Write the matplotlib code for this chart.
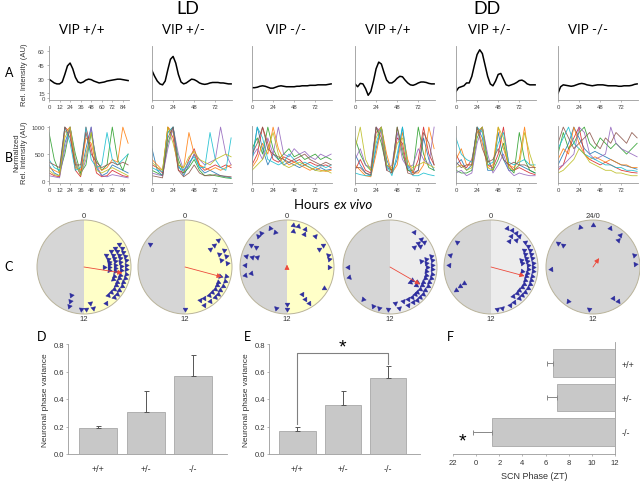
import numpy as np
import matplotlib
matplotlib.use('Agg')
import matplotlib.pyplot as plt
from matplotlib.patches import Wedge, Circle

plt.rcParams['font.family'] = ['Liberation Sans', 'DejaVu Sans']

# ---------------- data ----------------
genotypes = ['+/+', '+/-', '-/-']
titles = ['VIP +/+', 'VIP +/-', 'VIP -/-', 'VIP +/+', 'VIP +/-', 'VIP -/-']

# A: mean bioluminescence, sampled every 3 h (0..90 h)
t_a = [0, 3, 6, 9, 12, 15, 18, 21, 24, 27, 30, 33, 36, 39, 42, 45, 48, 51, 54, 57,
       60, 63, 66, 69, 72, 75, 78, 81, 84, 87, 90]
a_ld_wt = [30, 28, 26, 25, 25, 27, 35, 44, 47, 41, 32, 27, 26, 27, 29, 30, 29.5, 28, 27, 26,
           26.5, 27, 28, 28.5, 29, 29.5, 30, 30, 29.5, 29, 28.5]
a_ld_het = [39, 33, 28, 25, 24, 28, 40, 51, 54, 47, 35, 27, 25, 26, 28, 30, 29.5, 28, 26, 25,
            24.5, 25, 26, 26.5, 26.5, 26.5, 26, 26, 25.5, 25, 25]
a_ld_ko = [21, 21, 21.5, 22.5, 23, 22.5, 21.5, 20.5, 20.5, 21.5, 22.5, 23, 22.5, 22, 22, 22, 22,
           22.5, 22.5, 23, 23, 23, 23.5, 23.5, 23.5, 24, 24, 24, 24, 24.5, 25]
a_dd_wt = [25, 22, 25.5, 25, 20, 13, 17, 28, 41, 48, 46, 37, 29, 26, 26, 28, 31, 33, 32.5, 29,
           26, 24, 23.5, 24.5, 26, 27, 27, 26.5, 25.5, 25, 25]
a_dd_het = [17, 21, 22, 23, 26, 26, 33, 45, 56, 61, 57, 45, 33, 25, 23, 28, 35, 36, 30, 24,
            23, 24, 25, 26.5, 28.5, 29, 27.5, 25, 24, 24, 24]
a_dd_ko = [15, 22, 24, 23.5, 23, 22.5, 23, 24, 25, 25.5, 25, 24, 23.5, 23, 23.5, 24, 24, 24,
           23.5, 23, 23, 23, 23, 22.5, 22.5, 23, 23, 23, 23.5, 24.5, 25]
a_traces = [a_ld_wt, a_ld_het, a_ld_ko, a_dd_wt, a_dd_het, a_dd_ko]

# B: normalized single-neuron traces, sampled every 6 h (0..90 h)
t_b = [0, 6, 12, 18, 24, 30, 36, 42, 48, 54, 60, 66, 72, 78, 84, 90]
b_ld_wt = [
    [300, 150, 100, 700, 1000, 300, 120, 600, 1000, 250, 100, 150, 300, 250, 200, 150],
    [150, 100, 80, 1000, 900, 200, 80, 1000, 600, 150, 80, 100, 200, 150, 100, 80],
    [900, 400, 150, 500, 1000, 500, 150, 300, 900, 400, 200, 300, 1000, 400, 200, 500],
    [250, 200, 150, 900, 1000, 250, 200, 800, 700, 300, 200, 250, 400, 350, 1000, 700],
    [100, 80, 60, 600, 1000, 400, 100, 400, 1000, 300, 100, 80, 120, 100, 80, 60],
    [400, 250, 200, 1000, 700, 200, 250, 1000, 400, 250, 300, 900, 400, 300, 400, 500],
    [200, 120, 100, 800, 1000, 350, 100, 500, 900, 200, 150, 200, 250, 200, 150, 100],
    [350, 300, 250, 1000, 800, 300, 300, 900, 500, 350, 250, 300, 350, 300, 350, 300],
]
b_ld_het = [
    [600, 200, 100, 900, 1000, 300, 100, 300, 500, 250, 150, 200, 150, 100, 80, 60],
    [300, 250, 150, 1000, 800, 200, 150, 400, 600, 300, 200, 250, 300, 250, 300, 250],
    [200, 150, 100, 700, 1000, 400, 150, 250, 400, 200, 100, 120, 100, 80, 60, 50],
    [400, 300, 200, 1000, 900, 300, 250, 900, 500, 300, 250, 200, 250, 200, 250, 300],
    [150, 120, 100, 600, 1000, 500, 200, 300, 500, 400, 300, 350, 400, 1000, 500, 300],
    [250, 200, 180, 900, 1000, 250, 200, 350, 450, 250, 250, 900, 400, 250, 200, 800],
    [350, 250, 200, 1000, 700, 300, 250, 450, 550, 400, 350, 300, 400, 450, 500, 450],
    [100, 80, 60, 800, 1000, 200, 80, 150, 300, 150, 100, 100, 120, 100, 90, 80],
]
b_ld_ko = [
    [400, 1000, 600, 300, 500, 400, 300, 350, 300, 250, 300, 250, 200, 250, 200, 220],
    [300, 500, 1000, 700, 400, 350, 450, 400, 350, 400, 300, 350, 300, 280, 300, 250],
    [600, 800, 500, 1000, 600, 400, 500, 600, 450, 500, 400, 450, 500, 400, 450, 400],
    [250, 400, 700, 500, 1000, 600, 400, 300, 350, 300, 250, 200, 250, 200, 180, 200],
    [450, 600, 400, 800, 500, 1000, 500, 450, 600, 500, 550, 450, 400, 500, 450, 500],
    [350, 1000, 800, 400, 350, 300, 350, 500, 400, 300, 350, 300, 250, 300, 250, 300],
    [200, 300, 400, 600, 900, 500, 300, 250, 300, 350, 300, 250, 200, 180, 200, 150],
    [500, 700, 1000, 600, 500, 450, 400, 350, 400, 450, 500, 400, 350, 300, 350, 300],
]
b_dd_wt = [
    [500, 300, 150, 100, 600, 1000, 400, 150, 400, 1000, 300, 150, 200, 800, 400, 200],
    [200, 400, 200, 150, 900, 1000, 300, 200, 800, 700, 200, 150, 400, 1000, 500, 300],
    [800, 500, 300, 200, 1000, 700, 250, 200, 1000, 500, 200, 200, 1000, 500, 250, 200],
    [300, 200, 100, 80, 500, 1000, 500, 150, 300, 900, 400, 150, 150, 300, 1000, 600],
    [400, 600, 300, 250, 1000, 900, 200, 300, 900, 400, 250, 300, 600, 400, 300, 1000],
    [150, 120, 100, 100, 700, 1000, 300, 100, 500, 1000, 250, 100, 100, 150, 120, 100],
    [600, 1000, 400, 200, 800, 1000, 300, 250, 700, 800, 300, 250, 300, 350, 300, 250],
    [250, 250, 150, 120, 1000, 800, 200, 150, 1000, 600, 150, 120, 200, 900, 700, 300],
]
b_dd_het = [
    [300, 400, 200, 300, 1000, 800, 200, 200, 900, 400, 200, 200, 300, 250, 200, 150],
    [500, 300, 250, 400, 900, 1000, 300, 250, 500, 1000, 300, 200, 250, 200, 150, 120],
    [200, 150, 150, 200, 800, 1000, 400, 200, 400, 700, 250, 150, 900, 400, 200, 150],
    [400, 600, 300, 300, 1000, 700, 250, 300, 1000, 600, 300, 250, 400, 1000, 300, 250],
    [150, 200, 100, 150, 700, 1000, 500, 150, 300, 500, 200, 100, 150, 120, 100, 100],
    [800, 500, 400, 350, 1000, 900, 300, 350, 700, 900, 350, 300, 350, 400, 300, 300],
    [250, 300, 200, 250, 900, 1000, 250, 200, 1000, 800, 250, 200, 300, 900, 500, 200],
    [350, 250, 300, 300, 1000, 600, 350, 400, 600, 400, 300, 350, 300, 300, 250, 250],
]
b_dd_ko = [
    [300, 500, 700, 1000, 800, 600, 500, 550, 500, 450, 400, 350, 300, 280, 250, 220],
    [200, 300, 600, 800, 1000, 500, 400, 350, 300, 350, 300, 250, 200, 180, 160, 150],
    [500, 900, 600, 700, 900, 1000, 700, 600, 800, 700, 600, 700, 600, 500, 600, 700],
    [400, 600, 500, 1000, 700, 500, 400, 450, 400, 350, 400, 350, 300, 300, 250, 250],
    [250, 300, 400, 500, 1000, 900, 500, 400, 450, 500, 1000, 700, 600, 550, 500, 450],
    [600, 800, 1000, 700, 600, 500, 450, 400, 350, 300, 300, 250, 250, 200, 200, 180],
    [150, 200, 300, 400, 600, 500, 350, 300, 250, 200, 200, 150, 150, 120, 100, 100],
    [700, 1000, 800, 600, 700, 800, 900, 700, 600, 800, 700, 900, 800, 700, 900, 800],
]
b_traces = [b_ld_wt, b_ld_het, b_ld_ko, b_dd_wt, b_dd_het, b_dd_ko]
trace_colors = ['#1f77b4', '#d62728', '#2ca02c', '#ff7f0e', '#9467bd', '#17becf', '#bcbd22', '#8c564b']

# C: neuronal peak phases (h) and mean vector (phase h, length)
c_ld_wt = [3.8, 3.9, 4.0, 4.1, 4.2, 4.3, 4.5, 4.6, 4.7, 4.8, 4.9, 5.0, 5.1, 5.2, 5.3, 5.4, 5.5,
           5.6, 5.7, 5.8, 5.9, 6.0, 6.0, 6.1, 6.2, 6.3, 6.4, 6.5, 6.6, 6.8, 7.0, 7.1, 7.2, 7.4,
           7.5, 7.6, 7.8, 8.0, 8.2, 8.4, 8.6, 8.8, 9.0, 9.3, 9.9, 11.2, 11.4, 11.8, 12.3,
           13.4, 13.5, 13.6]
c_ld_het = [3.4, 3.5, 3.6, 4.4, 4.6, 5.0, 5.3, 5.6, 6.8, 7.0, 7.3, 7.6, 7.8, 8.0, 8.2, 8.4,
            8.6, 8.8, 9.0, 9.3, 9.6, 9.9, 10.2, 10.4, 12.0, 20.2]
c_ld_ko = [0.5, 0.6, 1.0, 1.7, 1.8, 2.8, 3.9, 4.0, 4.9, 5.3, 6.0, 8.0, 9.9, 10.0, 10.1, 12.0,
           12.0, 13.0, 17.3, 17.4, 18.2, 19.0, 19.1, 19.2, 20.1, 20.2, 21.1, 21.5, 22.4, 22.7]
c_dd_wt = [2.3, 3.2, 3.3, 3.4, 3.6, 3.7, 5.0, 5.2, 5.3, 5.4, 5.6, 5.8, 6.0, 6.2, 6.4, 6.6,
           6.8, 7.0, 7.2, 7.4, 7.6, 7.8, 7.9, 8.0, 8.1, 8.2, 8.3, 8.4, 8.5, 8.6, 8.8, 9.0,
           9.2, 9.4, 9.6, 9.8, 10.0, 10.3, 10.6, 11.2, 11.5, 12.2, 13.0, 13.6, 14.7, 17.1, 18.0]
c_dd_het = [1.5, 2.0, 2.2, 2.3, 2.4, 2.8, 2.9, 3.6, 4.0, 4.2, 4.4, 4.6, 4.8, 5.0, 5.1, 5.2,
            5.4, 5.5, 5.6, 5.8, 6.0, 6.2, 6.4, 6.5, 6.6, 6.8, 7.0, 7.2, 7.4, 7.6, 7.8, 8.0,
            8.2, 8.4, 8.6, 8.8, 9.0, 9.2, 9.5, 9.8, 10.2, 11.0, 11.5, 15.8, 15.9, 16.0, 18.2,
            19.1, 20.4]
c_dd_ko = [0.0, 1.6, 2.7, 2.9, 4.9, 5.7, 9.6, 9.8, 12.4, 14.4, 17.8, 20.3, 20.4, 22.8]
c_phases = [c_ld_wt, c_ld_het, c_ld_ko, c_dd_wt, c_dd_het, c_dd_ko]
mean_phase = [6.6, 7.0, 0.0, 8.0, 7.0, 2.3]
mean_len = [0.83, 0.81, 0.05, 0.74, 0.74, 0.23]
top_labels = ['0', '0', '0', '0', '0', '24/0']

# D / E: neuronal phase variance (mean, +SEM)
d_mean = [0.187, 0.303, 0.565]
d_sem = [0.015, 0.157, 0.155]
e_mean = [0.165, 0.356, 0.553]
e_sem = [0.035, 0.104, 0.085]

# F: SCN phase (ZT), mean and SEM
f_phase = [6.6, 7.0, 1.35]
f_sem = [0.45, 0.85, 1.6]

# ---------------- layout ----------------
W, H = 640, 485
fig = plt.figure(figsize=(6.4, 4.85), dpi=100)


def px_axes(l, t, r, b):
    return fig.add_axes([l / W, 1 - b / H, (r - l) / W, (b - t) / H])


def ftext(x, y, s, **kw):
    fig.text(x / W, 1 - y / H, s, **kw)


lefts = [49, 152, 252, 355, 456, 558]
title_x = [82, 183, 286, 388, 489, 588]
GREY = '#9a9a9a'

ftext(188, 9, 'LD', fontsize=13, family='Lato', ha='center', va='center')
ftext(487, 9, 'DD', fontsize=13, family='Lato', ha='center', va='center')
for x, s in zip(title_x, titles):
    ftext(x, 30, s, fontsize=9.5, family='Lato', ha='center', va='center')

for lab, y in zip(['A', 'B', 'C'], [73, 158, 267]):
    ftext(9, y, lab, fontsize=9, family='Lato', ha='center', va='center')

ftext(25, 75, 'Rel. Intensity (AU)', fontsize=5.5, rotation=90, ha='center', va='center', color='#333333')
ftext(21, 153, 'Normalized\nRel. Intensity (AU)', fontsize=5.5, rotation=90, ha='center',
      va='center', color='#333333', linespacing=1.1)
ftext(333, 205, 'Hours ', fontsize=9.5, family='Lato', ha='right', va='center')
ftext(334, 205, 'ex vivo', fontsize=9.5, family='Lato', style='italic', ha='left', va='center')


def small_axis(ax):
    for s in ['top', 'right']:
        ax.spines[s].set_visible(False)
    for s in ['left', 'bottom']:
        ax.spines[s].set_color(GREY)
        ax.spines[s].set_linewidth(0.6)
    ax.tick_params(labelsize=4.3, length=1.5, width=0.5, colors=GREY, labelcolor='#444444', pad=1.5)
    ax.set_xlim(0, 91)


# ---- row A ----
for i, y in enumerate(a_traces):
    ax = px_axes(lefts[i], 47, lefts[i] + 80, 101)
    ax.plot(t_a, y, color='black', lw=1.1)
    small_axis(ax)
    ax.set_ylim(8, 65)
    ax.set_xticks(range(0, 91, 12) if i == 0 else [0, 24, 48, 72])
    if i == 0:
        ax.set_yticks([9.6, 15, 30, 45, 60])
        ax.set_yticklabels(['0', '15', '30', '45', '60'])
    else:
        ax.set_yticks([])

# ---- row B ----
for i, traces in enumerate(b_traces):
    ax = px_axes(lefts[i], 127, lefts[i] + 80, 184)
    for j, tr in enumerate(traces):
        ax.plot(t_b, tr, color=trace_colors[j % len(trace_colors)], lw=0.6, alpha=0.9)
    small_axis(ax)
    ax.set_ylim(-35, 1020)
    ax.set_xticks(range(0, 91, 12) if i == 0 else [0, 24, 48, 72])
    if i == 0:
        ax.set_yticks([0, 500, 1000])
    else:
        ax.set_yticks([])

# ---- row C ----
centers = [84, 185, 287, 390, 491, 593]
cy, rad = 268, 47
right_fill = ['#ffffc8', '#ffffc8', '#ffffc8', '#ececec', '#ececec', '#d6d6d6']


def stack_levels(phases, win=0.35):
    levels = []
    for i, p in enumerate(phases):
        k = 0
        while any(levels[j] == k and abs(phases[j] - p) < win for j in range(i)):
            k += 1
        levels.append(k)
    return levels


for i, cx in enumerate(centers):
    ax = px_axes(cx - 52, cy - 52, cx + 52, cy + 52)
    ax.set_xlim(-52 / rad, 52 / rad)
    ax.set_ylim(-52 / rad, 52 / rad)
    ax.axis('off')
    ax.add_patch(Wedge((0, 0), 1, 90, 270, facecolor='#d6d6d6', edgecolor='none'))
    ax.add_patch(Wedge((0, 0), 1, -90, 90, facecolor=right_fill[i], edgecolor='none'))
    ax.add_patch(Circle((0, 0), 1, facecolor='none', edgecolor='#b9b39a', lw=0.7))
    phases = c_phases[i]
    levels = stack_levels(phases)
    for p, k in zip(phases, levels):
        th = np.deg2rad(p * 15)
        r = 0.9 - 0.12 * k
        ax.plot(r * np.sin(th), r * np.cos(th), marker=(3, 0, -p * 15), ms=4.0,
                color='#2e2e9e', mec='#2e2e9e', mew=0.3, ls='none')
    th = np.deg2rad(mean_phase[i] * 15)
    L = mean_len[i]
    ax.annotate('', xy=(L * np.sin(th), L * np.cos(th)), xytext=(0, 0),
                arrowprops=dict(arrowstyle='-|>', color='#ec4a3c', lw=0.6,
                                mutation_scale=7, shrinkA=0, shrinkB=0))
    ax.text(0, 1.02, top_labels[i], fontsize=5.5, ha='center', va='bottom', color='#333333')
    ax.text(0, -1.02, '12', fontsize=5.5, ha='center', va='top', color='#333333')

# ---- D / E ----
for lab, (l, r), means, sems, lx in [('D', (68, 227), d_mean, d_sem, 42),
                                      ('E', (269, 420), e_mean, e_sem, 247)]:
    ax = px_axes(l, 345, r, 455)
    x = np.arange(3)
    ax.bar(x, means, width=0.8, color='#c8c8c8', edgecolor='#a8a8a8', lw=0.6,
           yerr=[np.zeros(3), sems], error_kw=dict(ecolor='#555555', elinewidth=0.7,
                                                   capsize=1.8, capthick=0.7))
    ax.set_xlim(-0.63, 2.71)
    ax.set_ylim(0, 0.8)
    ax.set_yticks([0, 0.2, 0.4, 0.6, 0.8])
    ax.set_yticklabels(['0.0', '0.2', '0.4', '0.6', '0.8'])
    ax.set_xticks(x)
    ax.set_xticklabels(genotypes)
    for s in ['top', 'right']:
        ax.spines[s].set_visible(False)
    for s in ['left', 'bottom']:
        ax.spines[s].set_color(GREY)
        ax.spines[s].set_linewidth(0.6)
    ax.tick_params(axis='y', labelsize=5.5, length=1.5, width=0.5, colors=GREY,
                   labelcolor='#333333', pad=1.5)
    ax.tick_params(axis='x', labelsize=6.5, length=0, labelcolor='#333333', pad=7)
    ax.set_ylabel('Neuronal phase variance', fontsize=6, color='#333333', labelpad=3)
    ftext(lx, 337, lab, fontsize=9, family='Lato', ha='center', va='center')
    if lab == 'E':
        ax.plot([0, 0, 2, 2], [0.215, 0.735, 0.735, 0.655], color='#808080', lw=0.8,
                clip_on=False)
        ax.text(1, 0.715, '*', fontsize=14, ha='center', va='bottom', clip_on=False)

# ---- F ----
ax = px_axes(453, 343, 615, 455)
pos = [2, 1, 0]
ax.barh(pos, [p - 12 for p in f_phase], left=12, height=0.8, color='#c8c8c8',
        edgecolor='#a8a8a8', lw=0.6, xerr=[f_sem, np.zeros(3)],
        error_kw=dict(ecolor='#888888', elinewidth=0.7, capsize=1.8, capthick=0.7))
ax.set_xlim(-2, 12)
ax.set_ylim(-0.64, 2.61)
ax.set_xticks(range(-2, 13, 2))
ax.set_xticklabels(['22'] + [str(v) for v in range(0, 13, 2)])
ax.yaxis.tick_right()
ax.set_yticks(pos)
ax.set_yticklabels(genotypes)
for s in ['top', 'left']:
    ax.spines[s].set_visible(False)
for s in ['right', 'bottom']:
    ax.spines[s].set_color(GREY)
    ax.spines[s].set_linewidth(0.6)
ax.tick_params(axis='x', labelsize=5.5, length=1.5, width=0.5, colors=GREY,
               labelcolor='#333333', pad=2)
ax.tick_params(axis='y', labelsize=6.5, length=0, labelcolor='#333333', pad=5)
ax.set_xlabel('SCN Phase (ZT)', fontsize=6.5, color='#333333', labelpad=4)
ax.text(-1.2, -0.25, '*', fontsize=14, ha='center', va='center')
ftext(450, 337, 'F', fontsize=9, family='Lato', ha='center', va='center')

fig.savefig('out.png', dpi=100)
